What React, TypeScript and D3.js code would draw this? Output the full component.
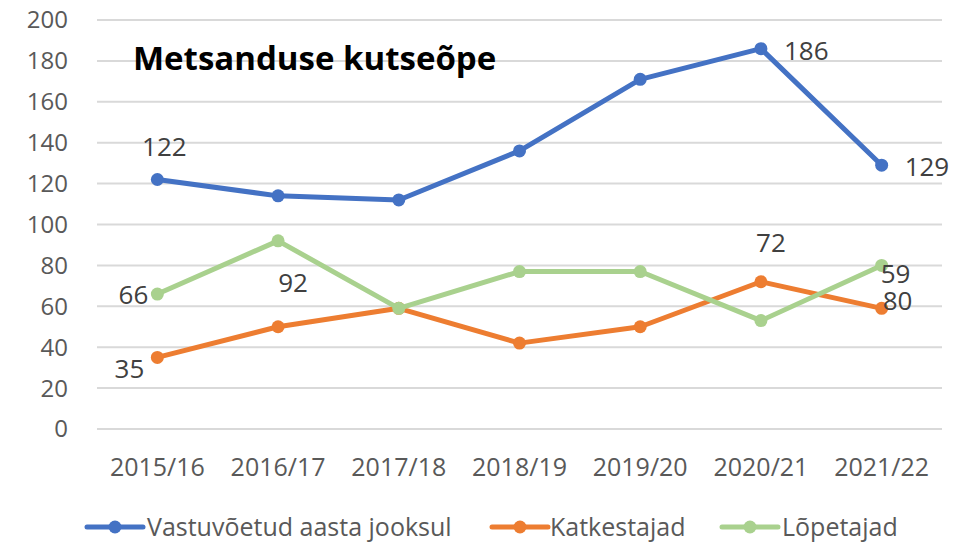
import React from "react";
import * as d3 from "d3";

const categories = ["2015/16", "2016/17", "2017/18", "2018/19", "2019/20", "2020/21", "2021/22"];
const seriesNames = ["Vastuvõetud aasta jooksul", "Katkestajad", "Lõpetajad"];
const admitted = [122, 114, 112, 136, 171, 186, 129];
const dropouts = [35, 50, 59, 42, 50, 72, 59];
const graduates = [66, 92, 59, 77, 77, 53, 80];
const yTicks = [0, 20, 40, 60, 80, 100, 120, 140, 160, 180, 200];
const title = "Metsanduse kutseõpe";

// data labels as they appear in the reference: [series index, category index, text]
const dataLabels: [number, number, string][] = [
  [0, 0, "122"],
  [0, 5, "186"],
  [0, 6, "129"],
  [1, 0, "35"],
  [1, 5, "72"],
  [1, 6, "80"],
  [2, 0, "66"],
  [2, 1, "92"],
  [2, 6, "59"],
];
// label placement (layout only): anchor, dx, dy (baseline offset)
const labelLayout: [string, number, number][] = [
  ["middle", 7, -24],
  ["start", 23, 11],
  ["start", 23, 11],
  ["end", -13, 21],
  ["middle", 10, -30],
  ["start", 1, 2],
  ["end", -9, 10],
  ["middle", 15, 51],
  ["start", -1, 18],
];

const colors = ["#4472C4", "#ED7D31", "#A9D18E"];
const FONT = "'Open Sans', 'Noto Sans', sans-serif";

export default function App() {
  const W = 957, H = 542;
  const x0 = 97, x1 = 942;
  const x = d3.scalePoint<string>().domain(categories).range([x0, x1]).padding(0.5);
  const y = d3.scaleLinear().domain([0, 200]).range([429, 20]);
  const series = [admitted, dropouts, graduates];
  const line = d3
    .line<number>()
    .x((_, i) => x(categories[i]) as number)
    .y((d) => y(d));

  const legendItems = [
    { lx: 87, tx: 147 },
    { lx: 492, tx: 550 },
    { lx: 722, tx: 782 },
  ];

  return (
    <svg
      width={W}
      height={H}
      style={{ position: "absolute", left: 0, top: 0, background: "#fff" }}
      fontFamily={FONT}
    >
      {yTicks.map((t) => (
        <g key={t}>
          <line x1={x0} x2={x1} y1={y(t)} y2={y(t)} stroke="#d9d9d9" strokeWidth={2} />
          <text x={68} y={y(t)} dy="0.35em" textAnchor="end" fontSize={24} fill="#595959">
            {t}
          </text>
        </g>
      ))}
      {categories.map((c) => (
        <text key={c} x={x(c)} y={476} textAnchor="middle" fontSize={25} fill="#595959">
          {c}
        </text>
      ))}
      <text x={133} y={70} fontSize={33} fontWeight={700} fill="#000">
        {title}
      </text>
      {series.map((s, si) => (
        <g key={si}>
          <path d={line(s) || ""} fill="none" stroke={colors[si]} strokeWidth={5} strokeLinejoin="round" />
          {s.map((v, i) => (
            <circle key={i} cx={x(categories[i])} cy={y(v)} r={6.5} fill={colors[si]} />
          ))}
        </g>
      ))}
      {dataLabels.map(([si, ci, txt], k) => {
        const [anchor, dx, dy] = labelLayout[k];
        const px = x(categories[ci]) as number;
        const py = y(series[si][ci]);
        return (
          <text key={k} x={px + dx} y={py + dy} textAnchor={anchor as any} fontSize={26} fill="#404040">
            {txt}
          </text>
        );
      })}
      {seriesNames.map((n, i) => {
        const it = legendItems[i];
        return (
          <g key={n}>
            <line x1={it.lx} x2={it.lx + 56} y1={527} y2={527} stroke={colors[i]} strokeWidth={5} strokeLinecap="round" />
            <circle cx={it.lx + 28} cy={527} r={6.5} fill={colors[i]} />
            <text x={it.tx} y={536} fontSize={25} fill="#595959">
              {n}
            </text>
          </g>
        );
      })}
    </svg>
  );
}
